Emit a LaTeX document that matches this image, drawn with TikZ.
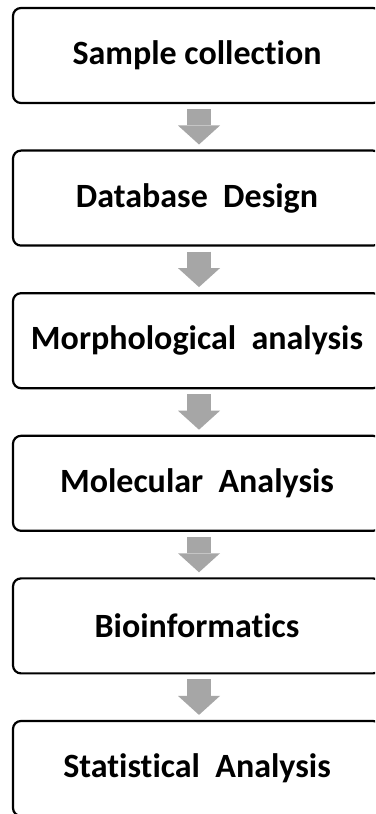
\documentclass[tikz,border=0pt]{standalone}
\usepackage{fontspec}
\setmainfont{Carlito}[RawFeature={-liga;-clig;-dlig}]
\usetikzlibrary{calc,arrows.meta}
\definecolor{arrowgray}{RGB}{166,166,166}
\tikzset{
  stepbox/.style={draw=black, line width=2.2pt, rounded corners=8pt,
    minimum width=368pt, minimum height=95pt, inner sep=0pt,
    font=\fontsize{34}{40}\selectfont\bfseries, text=black},
  bigarrow/.style={draw=arrowgray, line width=24pt,
    -{Triangle[width=42pt,length=19pt,line width=0pt]}}
}
\begin{document}
\begin{tikzpicture}[x=1pt,y=1pt]
\useasboundingbox (0,0) rectangle (375,814);
\clip (0,0) rectangle (375,814);
\fill[white] (0,0) rectangle (375,814);
\node[stepbox] (b1) at (197,758.5) {Sample collection};
\node[stepbox] (b2) at (197,615.9) {Database~~Design};
\node[stepbox] (b3) at (197,473.3) {Morphological~~analysis};
\node[stepbox] (b4) at (197,330.7) {Molecular~~Analysis};
\node[stepbox] (b5) at (197,188.1) {Bioinformatics};
\node[stepbox] (b6) at (197,45.5) {Statistical~~Analysis};
\foreach \a/\b in {b1/b2,b2/b3,b3/b4,b4/b5,b5/b6}{
  \draw[bigarrow] ($(\a.south)+(2,-5)$) -- ($(\b.north)+(2,5)$);
}
\end{tikzpicture}
\end{document}
